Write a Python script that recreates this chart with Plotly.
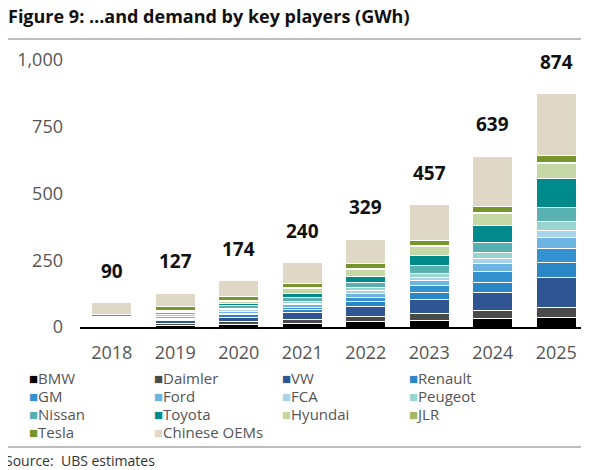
import plotly.graph_objects as go

# Categories and data (GWh)
years = ['2018', '2019', '2020', '2021', '2022', '2023', '2024', '2025']

bmw      = [3, 6, 9, 13, 19, 24, 31, 35]
daimler  = [3, 7, 10, 14, 20, 28, 29, 38]
vw       = [5, 10, 18, 26, 38, 51, 71, 113]
renault  = [3, 5, 8, 11, 18, 25, 35, 56]
gm       = [3, 5, 7, 10, 16, 26, 41, 51]
ford     = [4, 5, 7, 9, 14, 21, 29, 43]
fca      = [4, 3, 5, 6, 10, 11, 19, 26]
peugeot  = [3, 4, 6, 8, 14, 16, 25, 34]
nissan   = [5, 8, 10, 13, 19, 30, 38, 53]
toyota   = [2, 5, 9, 17, 23, 35, 63, 106]
hyundai  = [3, 4, 8, 17, 25, 33, 43, 58]
jlr      = [1, 1, 2, 3, 4, 4, 4, 4]
tesla    = [9, 12, 14, 17, 18, 21, 23, 25]
chinese  = [42, 52, 61, 76, 91, 132, 188, 232]

totals = [90, 127, 174, 240, 329, 457, 639, 874]

series = [
    ('BMW', bmw, '#000000'),
    ('Daimler', daimler, '#4a4a4a'),
    ('VW', vw, '#2f5593'),
    ('Renault', renault, '#2b86c5'),
    ('GM', gm, '#3592d0'),
    ('Ford', ford, '#6db4e2'),
    ('FCA', fca, '#a8d4ea'),
    ('Peugeot', peugeot, '#98d5cc'),
    ('Nissan', nissan, '#58b0b0'),
    ('Toyota', toyota, '#008a8c'),
    ('Hyundai', hyundai, '#c6d7a6'),
    ('JLR', jlr, '#a3b865'),
    ('Tesla', tesla, '#76962c'),
    ('Chinese OEMs', chinese, '#e0d8c7'),
]

FONT = 'Open Sans'
# page body has an 8px margin, so the figure is drawn 8px smaller
W, H = 581, 462
PW, PH = 508, 267   # plot area size in px (for paper coords)

fig = go.Figure()

for name, vals, color in series:
    fig.add_trace(go.Bar(
        x=years, y=vals, name=name, showlegend=False,
        marker=dict(color=color, line=dict(color='white', width=1)),
        hoverinfo='name+y'
    ))

# Total labels above bars (x given as category index, so '2018' is not
# read as index 2018 by the annotation autorange)
for i, tot in enumerate(totals):
    fig.add_annotation(
        x=i, y=tot, text=f"<b>{tot}</b>",
        showarrow=False, yanchor='bottom', yshift=17,
        font=dict(size=19, color='#111111', family=FONT)
    )

# Legend drawn as text: 4 columns, square marker + label
col_x = [27, 152, 280, 407]
row_y = [378, 396, 414, 432]
for i, (name, vals, color) in enumerate(series):
    cx = col_x[i % 4]
    ry = row_y[i // 4]
    fig.add_annotation(
        xref='paper', yref='paper',
        x=(cx - 80) / PW, y=-(ry - 327) / PH,
        xanchor='left', yanchor='middle', showarrow=False,
        text=f"<span style='color:{color}'>■</span>{name}",
        font=dict(size=15, color='#555555', family=FONT)
    )

# Separator lines (top and bottom)
for yy in [39, 447]:
    fig.add_shape(
        type='line', xref='paper', yref='paper',
        x0=-80 / PW, x1=509 / PW,
        y0=-(yy - 327) / PH, y1=-(yy - 327) / PH,
        line=dict(color='#bdbdbd', width=2)
    )

# Source note
fig.add_annotation(
    xref='paper', yref='paper', x=-77 / PW, y=-(460 - 327) / PH,
    xanchor='left', yanchor='middle', showarrow=False,
    text='Source:  UBS estimates',
    font=dict(size=14, color='#333333', family=FONT)
)

fig.update_layout(
    width=W, height=H,
    barmode='stack', bargap=0.37, showlegend=False,
    margin=dict(l=72, r=1, t=52, b=143, autoexpand=False),
    paper_bgcolor='white', plot_bgcolor='white',
    font=dict(family=FONT, color='#555555'),
    title=dict(
        text='<b>Figure 9: …and demand by key players (GWh)</b>',
        x=0, xanchor='left', xref='container',
        y=1 - 9 / H, yanchor='middle', yref='container',
        font=dict(size=18, color='#111111', family=FONT)
    ),
    xaxis=dict(
        type='category', showgrid=False, showline=True,
        linecolor='black', linewidth=2, ticks='',
        tickfont=dict(size=18, color='#555555'), ticklabelstandoff=8
    ),
    yaxis=dict(
        range=[0, 1000], tickvals=[0, 250, 500, 750, 1000],
        ticktext=['0', '250', '500', '750', '1,000'],
        showgrid=False, zeroline=False, showline=False, ticks='',
        tickfont=dict(size=18, color='#555555'), ticklabelstandoff=16
    ),
)

fig.write_html("out.html")
